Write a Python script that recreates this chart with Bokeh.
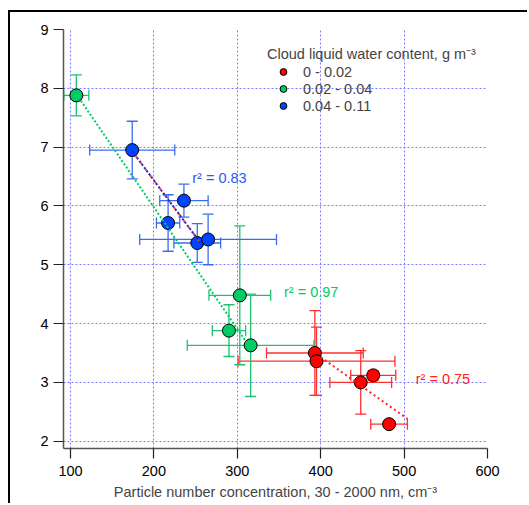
import math
from bokeh.plotting import figure
from bokeh.models import (ColumnDataSource, Whisker, TeeHead, Range1d, FixedTicker,
                          Legend, LegendItem, Label)
from bokeh.embed import file_html
from bokeh.resources import INLINE

# ---------------- data ----------------
red_x = [393, 395, 463, 448, 482]
red_y = [3.50, 3.36, 3.12, 3.00, 2.29]
red_xerr = [58, 94, 27, 37, 22]
red_yerr = [0.72, 0.58, 0.08, 0.54, 0.05]

green_x = [107, 303, 290, 316]
green_y = [7.88, 4.48, 3.88, 3.63]
green_xerr = [15, 37, 20, 76]
green_yerr = [0.35, 1.18, 0.44, 0.87]

blue_x = [174, 236, 217, 252, 265]
blue_y = [6.95, 6.09, 5.71, 5.37, 5.43]
blue_xerr = [51, 29, 14, 28, 82]
blue_yerr = [0.49, 0.28, 0.48, 0.33, 0.43]

# fit lines (end points)
green_fit_x = [107, 314]
green_fit_y = [7.90, 3.62]
blue_fit_x = [174, 258]
blue_fit_y = [6.93, 5.33]
red_fit_x = [400, 504]
red_fit_y = [3.43, 2.38]

r2_labels = ["r² = 0.75", "r² = 0.97", "r² = 0.83"]
r2_x = [514, 356, 246]
r2_y = [3.06, 4.53, 6.48]

legend_labels = ["0 - 0.02", "0.02 - 0.04", "0.04 - 0.11"]
x_ticks = [100, 200, 300, 400, 500, 600]
y_ticks = [2, 3, 4, 5, 6, 7, 8, 9]

FONT = "Liberation Sans"
FS = "14.5px"

p = figure(width=519, height=493, output_backend="svg", toolbar_location=None,
           x_range=Range1d(91.6, 600), y_range=Range1d(1.876, 9),
           min_border_left=53, min_border_right=42, min_border_top=17, min_border_bottom=57)
p.styles = {"margin-left": "8px", "margin-top": "10px",
            "border-left": "2px solid black", "border-top": "2px solid black"}
p.outline_line_color = None
p.background_fill_color = "white"

for ax in (p.xaxis[0], p.yaxis[0]):
    ax.axis_line_color = "#555555"
    ax.axis_line_width = 1.5
    ax.major_tick_line_color = "#222222"
    ax.major_tick_line_width = 1.2
    ax.major_tick_out = 10
    ax.major_tick_in = 0
    ax.minor_tick_line_color = None
    ax.major_label_text_font = FONT
    ax.major_label_text_font_size = FS
    ax.major_label_text_color = "black"

p.xaxis.ticker = FixedTicker(ticks=x_ticks)
p.yaxis.ticker = FixedTicker(ticks=y_ticks)
p.xaxis.major_label_standoff = 7
p.yaxis.major_label_standoff = 5
p.xaxis.axis_label = "Particle number concentration, 30 - 2000 nm, cm⁻³"
p.xaxis.axis_label_text_font = FONT
p.xaxis.axis_label_text_font_size = FS
p.xaxis.axis_label_text_font_style = "normal"
p.xaxis.axis_label_standoff = 5

p.xgrid.ticker = FixedTicker(ticks=x_ticks)
p.ygrid.ticker = FixedTicker(ticks=y_ticks)
for g in (p.xgrid[0], p.ygrid[0]):
    g.grid_line_color = "#7a7aff"
    g.grid_line_dash = "2 2"
    g.grid_line_width = 1

# y axis title placed to match the original's position
p.add_layout(Label(x=-46, y=187, x_units="screen", y_units="screen",
                   text="Cloud drop effective radius, um", angle=math.pi / 2,
                   text_align="center", text_baseline="middle",
                   text_font=FONT, text_font_size=FS, text_color="black"))

groups = [
    (red_x, red_y, red_xerr, red_yerr, "#ff0000", "#ff3030"),
    (green_x, green_y, green_xerr, green_yerr, "#00cc66", "#20c070"),
    (blue_x, blue_y, blue_xerr, blue_yerr, "#0044ff", "#3a6cf0"),
]

renderers = []
for xs, ys, xe, ye, col, ecol in groups:
    src = ColumnDataSource(dict(
        x=xs, y=ys,
        xl=[a - b for a, b in zip(xs, xe)], xu=[a + b for a, b in zip(xs, xe)],
        yl=[a - b for a, b in zip(ys, ye)], yu=[a + b for a, b in zip(ys, ye)],
    ))
    for dim, base, lo, up in (("width", "y", "xl", "xu"), ("height", "x", "yl", "yu")):
        w = Whisker(source=src, base=base, lower=lo, upper=up, dimension=dim,
                    line_color=ecol, line_width=1.3, level="underlay",
                    lower_head=TeeHead(size=11, line_color=ecol, line_width=1.3),
                    upper_head=TeeHead(size=11, line_color=ecol, line_width=1.3))
        p.add_layout(w)
    r = p.scatter("x", "y", source=src, size=13, fill_color=col,
                  line_color="black", line_width=1)
    renderers.append(r)

# fit lines (drawn above markers as in the original)
p.line(green_fit_x, green_fit_y, line_color="#00cc66", line_width=2, line_dash="2 2")
p.line(blue_fit_x, blue_fit_y, line_color="#2020c8", line_width=2, line_dash="2 2")
p.line(blue_fit_x, blue_fit_y, line_color="#ff3030", line_width=2, line_dash="2 6",
       line_dash_offset=2)
p.line(red_fit_x, red_fit_y, line_color="#ff2020", line_width=2, line_dash="2 3")

r2_colors = ["#ff2020", "#00cc66", "#2a5af0"]
p.text(x=r2_x, y=r2_y, text=r2_labels, text_color=r2_colors,
       text_font={"value": FONT}, text_font_size={"value": FS},
       text_baseline="alphabetic", text_align="left")

legend = Legend(items=[LegendItem(label=l, renderers=[r]) for l, r in zip(legend_labels, renderers)],
                location=(204, 334), title="Cloud liquid water content, g m⁻³",
                title_text_font=FONT, title_text_font_size=FS, title_text_font_style="normal",
                title_standoff=0, label_text_font=FONT, label_text_font_size=FS,
                glyph_width=32, glyph_height=17, spacing=0, label_standoff=4,
                label_height=16, padding=0, margin=0,
                background_fill_alpha=0, border_line_color=None)
p.add_layout(legend, "center")

open("out.html", "w").write(file_html(p, INLINE))
